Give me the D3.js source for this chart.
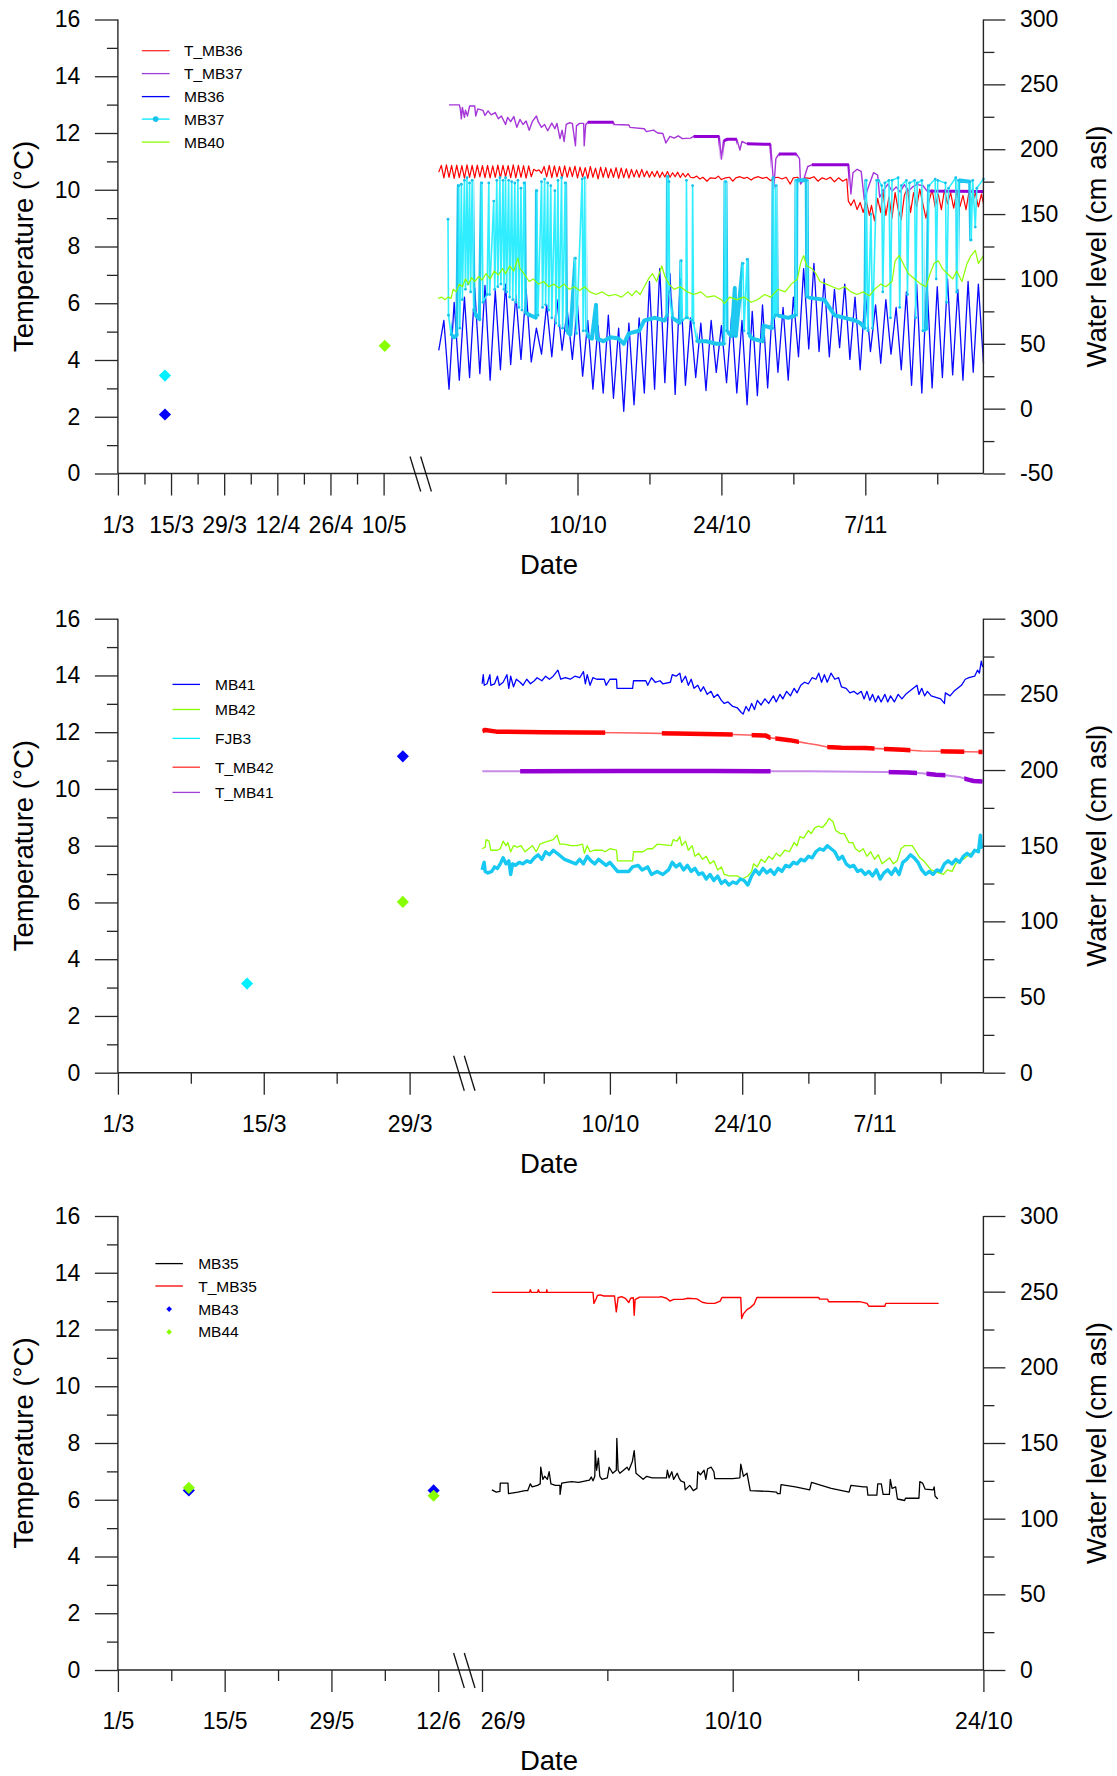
<!DOCTYPE html>
<html>
<head>
<meta charset="utf-8">
<script src="https://cdn.jsdelivr.net/npm/d3@7"></script>
<style>
  body { margin: 0; background: #fff; }
  svg { display: block; }
</style>
</head>
<body>
<svg id="chart" width="1117" height="1776"></svg>
<script>
// ---------------------------------------------------------------
// Logger records (autumn): time = days after 1 October (fractional)
// Spot samples (spring): [month, day, value]
// Temperatures in °C (left axis), water levels in cm asl (right axis)
// ---------------------------------------------------------------

// ---- Panel 1 ----
const mb36Start = -4.5, mb36Step = 0.5;
const mb36Level = [45,68,15,82,22,86,24,93,27,95,22,91,30,96,34,88,38,92,36,62,
  42,80,40,84,45,76,38,80,25,68,15,64,12,72,8,62,-2,66,3,70,
  12,98,15,108,20,104,11,100,18,70,24,66,14,68,28,64,20,72,12,68,
  3,75,10,80,16,84,28,78,22,86,40,108,46,112,44,100,40,92,47,96,
  38,86,30,90,44,80,35,84,42,78,30,90,18,96,12,98,16,94,24,100,
  26,92,22,98,28,96,35];

const tmb36Start = -4.5, tmb36Step = 0.25;
const tmb36TempOsc = [10.62,10.86,10.42,10.88,10.44,10.86,10.40,10.87,10.43,10.85,
  10.41,10.88,10.44,10.86,10.42,10.87,10.45,10.85,10.43,10.86,
  10.42,10.84,10.44,10.87,10.42,10.86,10.45,10.85,10.43,10.88,
  10.42,10.86,10.44,10.85,10.41,10.84,10.46,10.72,10.66,10.70,
  10.58,10.82,10.45,10.86,10.43,10.84,10.45,10.82,10.42,10.84,
  10.44,10.80,10.46,10.83,10.42,10.80,10.45,10.78,10.40,10.82,
  10.44,10.76,10.38,10.80,10.44,10.78,10.42,10.74,10.44,10.78,
  10.40,10.76,10.43,10.74,10.41,10.72,10.45,10.70,10.44,10.72,
  10.46,10.66,10.44,10.64,10.46,10.66,10.43,10.62,10.45,10.64,
  10.44,10.60,10.46,10.62,10.43,10.58,10.45,10.57,10.44];
const tmb36TempLate = [[20.3,10.42],[20.6,10.48],[20.9,10.38],[21.2,10.44],[21.6,10.30],[21.9,10.42],
  [22.4,10.40],[22.7,10.48],[23.0,10.36],[23.4,10.42],[23.8,10.44],[24.1,10.30],[24.4,10.42],
  [24.8,10.46],[25.2,10.40],[25.5,10.44],[25.9,10.34],[26.2,10.42],[26.6,10.46],[27.0,10.40],
  [27.4,10.44],[27.8,10.32],[28.1,10.42],[28.5,10.44],[28.9,10.38],[29.3,10.44],[29.7,10.20],
  [30.0,10.42],[30.4,10.44],[30.8,10.30],[31.2,10.42],[31.6,10.40],[32.0,10.46],[32.4,10.30],
  [32.8,10.42],[33.2,10.36],[33.6,10.44],[34.0,10.28],[34.4,10.42],[34.8,10.30],[35.2,10.38],
  [35.35,9.60],[35.6,9.45],[35.9,9.65],[36.2,9.30],[36.5,9.55],[36.8,9.20],[37.1,9.60],
  [37.4,9.10],[37.6,9.45],[37.9,8.90],[38.2,9.70],[38.5,9.20],[38.7,10.00],[39.0,9.10],
  [39.3,9.75],[39.6,9.00],[39.9,9.90],[40.2,9.30],[40.5,8.95],[40.8,9.80],[41.1,10.05],
  [41.4,9.20],[41.7,9.90],[42.0,9.40],[42.3,10.02],[42.6,9.50],[42.9,9.00],[43.2,9.60],
  [43.5,10.00],[43.8,9.40],[44.1,9.85],[44.4,9.30],[44.7,10.00],[45.0,9.50],[45.3,9.90],
  [45.6,9.35],[45.9,9.95],[46.2,9.40],[46.5,9.80],[46.8,9.30],[47.1,9.95],[47.4,9.50],
  [47.7,9.90],[48.0,9.40],[48.3,9.85],[48.5,9.50]];

const tmb37Temp = [[-3.5,12.99],[-2.5,12.99],[-2.4,12.85],[-2.3,12.50],[-2.2,12.90],[-2.0,12.55],
  [-1.9,12.80],[-1.7,12.60],[-1.5,12.95],[-1.0,12.95],[-0.9,12.60],[-0.7,12.85],[-0.2,12.80],
  [0.0,12.62],[0.3,12.78],[0.6,12.64],[1.0,12.72],[1.3,12.50],[1.6,12.60],[2.0,12.30],
  [2.2,12.55],[2.5,12.40],[2.8,12.58],[3.1,12.20],[3.4,12.48],[3.7,12.30],[4.0,12.42],
  [4.3,12.10],[4.6,12.40],[5.0,12.60],[5.2,12.38],[5.5,12.20],[5.8,12.30],[6.1,12.08],
  [6.5,12.35],[6.8,12.15],[7.0,12.34],[7.3,11.80],[7.5,12.10],[7.7,11.70],[7.9,12.30],
  [8.2,12.36],[8.5,12.34],[8.8,11.55],[8.9,12.25],[9.2,12.34],[9.6,12.34],[9.65,11.55],
  [9.8,12.30],[10.0,12.38],[12.5,12.38],[12.6,12.30],[14.0,12.28],[14.1,12.20],[15.5,12.15],
  [15.7,12.05],[16.4,12.10],[16.8,12.00],[17.3,11.98],[17.6,11.65],[18.0,11.88],[18.4,11.82],
  [18.8,11.90],[19.2,11.80],[20.0,11.82],[20.3,11.88],[22.8,11.88],[23.0,11.08],[23.2,11.72],
  [23.6,11.78],[24.5,11.78],[24.8,11.40],[25.0,11.70],[25.5,11.62],[27.8,11.60],[28.1,10.05],
  [28.3,11.10],[28.6,11.26],[30.3,11.26],[30.6,11.10],[30.7,10.20],[31.0,10.35],[31.4,10.82],
  [31.8,10.88],[35.4,10.88],[35.6,9.85],[35.8,10.60],[36.2,10.72],[36.6,10.65],[36.9,9.65],
  [37.3,10.10],[37.8,10.60],[38.2,10.52],[38.4,9.74],[38.8,10.00],[39.2,10.20],[39.6,9.95],
  [40.0,10.10],[40.4,9.92],[40.8,10.18],[41.2,9.96],[41.6,10.10],[42.0,10.18],[42.6,10.15],
  [43.0,9.96],[48.5,9.94]];
const tmb37Dense = [[10,12.5],[20.3,22.8],[23.2,24.5],[25.5,27.8],[28.6,30.3],[31.8,35.4],[43,48.5]];

const mb37Level = [[-3.6,146],[-3.55,72],[-3.3,57],[-3.0,55],[-2.7,57],[-2.55,172],[-2.45,62],
  [-2.3,173],[-2.2,84],[-2.0,176],[-1.9,92],[-1.75,178],[-1.65,96],[-1.5,174],[-1.4,90],
  [-1.25,176],[-1.1,76],[-0.8,71],[-0.5,69],[-0.3,174],[-0.2,82],[0.2,88],[0.37,174],[0.45,88],
  [0.85,160],[0.95,92],[1.15,176],[1.25,94],[1.45,178],[1.55,96],[1.75,176],[1.85,92],[2.0,178],
  [2.1,90],[2.3,176],[2.4,86],[2.6,175],[2.7,84],[2.9,174],[3.0,82],[3.2,176],[3.3,78],[3.5,170],
  [3.6,76],[3.8,174],[3.9,74],[4.4,72],[5.0,70],[5.05,168],[5.15,72],[5.5,175],[5.6,78],[5.8,177],
  [5.9,80],[6.1,174],[6.2,76],[6.4,172],[6.5,70],[6.8,168],[6.9,66],[7.1,176],[7.2,64],[7.45,178],
  [7.55,62],[7.8,174],[7.9,60],[8.3,57],[8.8,116],[8.9,58],[9.45,177],[9.55,60],[9.7,178],[9.8,60],
  [10.0,56],[10.4,54],[10.8,80],[10.9,54],[11.5,52],[12.2,55],[13.0,54],[13.5,50],[14.0,58],
  [15.0,60],[15.5,68],[16.5,70],[17.5,68],[17.75,72],[17.8,179],[17.9,175],[17.95,90],[18.2,70],[19.0,66],
  [19.1,114],[19.2,68],[19.55,70],[19.6,176],[19.7,70],[20.15,68],[20.2,172],[20.3,66],[20.6,52],[21.5,52],[22.5,50],
  [23.3,50],[23.4,175],[23.5,60],[24.0,56],[24.3,93],[24.4,56],[25.1,112],[25.2,60],[25.5,115],
  [25.6,58],[26.0,54],[27.0,52],[27.1,64],[28.0,62],[28.07,178],[28.15,70],[28.25,72],[28.3,172],[28.4,72],
  [29.5,70],[30.25,72],[30.3,176],[31.3,176],[31.35,86],[32.0,85],[33.0,84],[33.5,78],[34.0,72],[35.0,70],
  [36.0,68],[36.5,66],[37.0,62],[37.1,176],[37.25,60],[37.55,150],[37.7,62],[38.1,176],[38.3,176],
  [38.6,172],[38.7,90],[38.9,174],[39.3,176],[39.45,70],[39.6,176],[40.2,178],[40.35,78],[40.5,172],
  [41.0,176],[41.1,88],[41.3,174],[41.8,176],[41.9,70],[42.05,174],[42.5,176],[42.6,60],[43.0,62],
  [43.2,172],[43.8,177],[43.9,100],[44.05,176],[44.8,174],[44.9,82],[45.1,170],[45.8,178],[45.9,90],
  [46.05,176],[47.2,175],[47.3,130],[47.45,176],[47.7,140],[47.85,170],[48.5,177]];
const mb37Dense = [[-3.3,-2.6],[-1.1,-0.4],[3.9,5.0],[7.9,8.7],[9.9,17.7],[18.2,19.0],[20.6,23.3],
  [23.5,25.0],[25.6,28.0],[28.45,30.2],[30.35,31.3],[31.4,37.0],[42.7,43.1],[45.8,45.85],[46.1,47.2]];

const mb40Level = [[-4.55,85],[-4.2,86],[-3.9,84],[-3.6,86],[-3.3,85],[-3.1,92],[-2.8,90],[-2.5,96],
  [-2.2,94],[-1.9,100],[-1.6,96],[-1.3,101],[-1.0,98],[-0.6,102],[-0.3,99],[0.1,104],[0.5,100],
  [0.9,106],[1.3,103],[1.7,108],[2.0,104],[2.4,110],[2.8,106],[3.2,116],[3.4,108],[3.8,104],
  [4.3,98],[4.7,100],[5.2,96],[5.7,98],[6.2,94],[6.7,96],[7.2,93],[7.7,96],[8.2,92],[8.7,94],
  [9.2,91],[9.7,94],[10.2,90],[10.8,88],[11.4,90],[12.0,87],[12.7,88],[13.3,86],[13.9,90],
  [14.3,87],[14.7,91],[15.1,88],[15.5,94],[15.9,100],[16.3,104],[16.7,98],[17.2,110],[17.5,102],
  [17.9,96],[18.4,92],[19.0,94],[19.7,90],[20.3,88],[21.0,90],[21.6,86],[22.3,87],[23.0,84],
  [23.3,81],[23.8,86],[24.5,84],[25.2,86],[25.9,82],[26.5,84],[27.2,88],[27.8,86],[28.5,92],
  [29.2,90],[29.8,96],[30.4,100],[30.7,112],[31.0,118],[31.3,110],[31.8,108],[32.2,104],
  [32.6,98],[33.2,96],[33.8,94],[34.4,92],[35.0,94],[35.6,90],[36.2,88],[36.8,90],[37.4,87],
  [37.9,92],[38.5,96],[39.0,94],[39.6,98],[39.9,114],[40.3,118],[40.8,110],[41.2,104],[41.8,100],
  [42.4,96],[42.9,94],[43.3,104],[43.7,112],[44.1,114],[44.5,108],[45.0,104],[45.5,100],
  [45.9,106],[46.4,98],[46.9,112],[47.3,118],[47.7,122],[48.0,112],[48.5,118]];

const mb36Spot = [[3, 13.4, 2.08]];
const mb37Spot = [[3, 13.4, 3.45]];
const mb40Spot = [[5, 10.3, 4.50]];

// ---- Panel 2 ----
const mb41Level = [[-4.52,257],[-4.4,263],[-4.3,256],[-4.0,257],[-3.7,263],[-3.6,256],[-3.2,257],
  [-2.9,262],[-2.7,256],[-2.3,258],[-1.9,263],[-1.7,254],[-1.5,262],[-1.2,255],[-0.9,260],
  [-0.5,258],[-0.2,256],[0.2,260],[0.6,257],[1.0,259],[1.3,261],[1.8,259],[2.2,262],[2.6,260],
  [3.0,262],[3.5,266],[3.8,260],[4.3,261],[4.8,260],[5.3,262],[5.8,261],[6.2,265],[6.4,257],
  [6.6,263],[6.9,256],[7.2,261],[7.6,260],[8.4,260],[8.6,256],[9.0,260],[9.7,260],[9.75,254],
  [11.4,254],[11.5,259],[12.8,259],[13.0,256],[13.4,261],[13.8,258],[14.3,259],[14.6,257],
  [15.4,258],[15.6,263],[16.0,262],[16.4,264],[16.6,258],[17.0,262],[17.3,256],[17.6,260],
  [17.9,254],[18.3,256],[18.6,252],[18.9,255],[19.3,250],[19.7,252],[20.0,248],[20.4,250],
  [20.8,246],[21.1,244],[21.5,245],[22.0,242],[22.5,241],[22.9,238],[23.1,237],[23.4,242],
  [23.7,239],[24.0,244],[24.3,240],[24.6,246],[25.0,243],[25.4,247],[25.8,244],[26.3,249],
  [26.6,245],[27.0,250],[27.3,247],[27.7,252],[28.1,249],[28.5,254],[28.8,251],[29.2,256],
  [29.6,258],[30.0,257],[30.4,261],[30.8,260],[31.1,264],[31.4,258],[31.7,263],[32.0,258],
  [32.4,264],[32.8,260],[33.2,261],[33.5,255],[34.0,254],[34.4,251],[34.8,252],[35.2,250],
  [35.6,252],[35.9,247],[36.2,252],[36.5,246],[36.8,250],[37.1,245],[37.4,249],[37.7,245],
  [38.1,250],[38.4,245],[38.7,249],[39.1,245],[39.5,250],[39.9,247],[40.3,250],[40.7,252],
  [41.1,254],[41.5,256],[41.7,250],[42.0,254],[42.3,249],[42.6,252],[43.0,249],[43.5,248],
  [44.0,247],[44.4,244],[44.5,251],[45.0,249],[45.4,252],[45.8,254],[46.2,256],[46.6,260],
  [47.0,261],[47.6,262],[47.9,266],[48.1,264],[48.3,272],[48.45,268]];

const mb42Level = [[-4.52,148],[-4.2,149],[-4.1,154],[-3.8,153],[-3.6,147],[-2.9,147],[-2.6,148],
  [-2.3,153],[-2.0,150],[-1.8,152],[-1.5,146],[-1.2,150],[-0.8,149],[-0.4,150],[0.0,146],
  [0.4,148],[0.8,150],[1.2,146],[1.6,151],[2.0,152],[2.5,153],[3.0,154],[3.4,157],[3.7,151],
  [4.2,151],[4.9,150],[5.5,150],[6.1,151],[6.3,145],[6.6,150],[6.9,146],[7.3,147],[8.2,147],
  [8.5,146],[9.0,148],[9.7,147],[9.8,140],[11.4,140],[11.5,146],[12.5,146],[13.0,148],
  [13.5,148],[14.0,151],[15.5,150],[15.7,154],[16.1,153],[16.4,156],[16.6,150],[17.0,153],
  [17.3,147],[17.7,150],[18.0,143],[18.4,145],[18.8,141],[19.2,143],[19.6,138],[20.0,140],
  [20.4,134],[20.8,136],[21.1,131],[21.6,130],[22.5,130],[23.0,128],[23.6,130],[24.0,133],
  [24.2,138],[24.6,136],[25.0,141],[25.4,139],[25.8,143],[26.2,141],[26.6,145],[27.0,143],
  [27.5,147],[28.0,146],[28.5,152],[28.8,150],[29.1,156],[29.5,155],[30.0,160],[30.3,158],
  [30.7,162],[31.1,163],[31.5,162],[31.9,165],[32.2,168],[32.6,166],[32.9,160],[33.4,158],
  [33.8,158],[34.3,152],[34.7,152],[35.0,148],[35.4,146],[35.8,148],[36.2,143],[36.6,146],
  [37.0,141],[37.4,144],[37.8,138],[38.2,140],[38.6,142],[39.0,138],[39.4,140],[39.8,148],
  [40.2,150],[40.6,150],[41.0,150],[41.4,146],[41.8,142],[42.2,140],[42.6,137],[43.0,134],
  [43.4,133],[43.8,132],[44.3,131],[44.7,134],[45.2,133],[45.6,138],[46.0,140],[46.4,141],
  [46.8,143],[47.2,145],[47.6,146],[48.0,148],[48.45,150]];

const fjb3Level = [[-4.52,134],[-4.4,137],[-4.3,139],[-4.2,133],[-3.9,132],[-3.5,133],[-3.2,136],
  [-2.9,135],[-2.6,138],[-2.3,142],[-2.0,138],[-1.7,140],[-1.5,131],[-1.3,138],[-1.0,137],
  [-0.6,139],[-0.2,138],[0.2,140],[0.6,139],[1.0,142],[1.4,144],[1.8,141],[2.2,146],[2.6,144],
  [3.0,147],[3.4,145],[3.8,143],[4.2,141],[4.6,140],[5.0,139],[5.4,138],[5.8,141],[6.2,138],
  [6.6,143],[7.0,140],[7.4,138],[7.8,141],[8.2,139],[8.6,137],[9.0,139],[9.4,136],[9.8,133],
  [10.5,133],[11.0,133],[11.4,136],[12.0,137],[12.4,134],[13.0,136],[13.4,131],[14.0,133],
  [14.6,131],[15.2,134],[15.6,139],[16.0,136],[16.4,138],[16.8,134],[17.2,137],[17.6,133],
  [18.0,135],[18.4,131],[18.8,132],[19.2,128],[19.6,131],[20.0,127],[20.4,130],[20.8,125],
  [21.2,127],[21.6,124],[22.0,126],[22.4,125],[22.8,128],[23.2,127],[23.6,124],[24.0,130],
  [24.4,134],[24.8,131],[25.2,135],[25.6,132],[26.0,134],[26.4,131],[26.8,135],[27.2,133],
  [27.6,137],[28.0,136],[28.4,139],[28.8,138],[29.2,141],[29.6,140],[30.0,143],[30.4,142],
  [30.8,146],[31.2,148],[31.6,147],[32.0,150],[32.4,148],[32.8,146],[33.2,141],[33.6,143],
  [34.0,138],[34.4,136],[34.8,137],[35.2,133],[35.6,134],[36.0,131],[36.4,133],[36.8,130],
  [37.2,134],[37.6,128],[38.0,132],[38.4,134],[38.8,131],[39.2,135],[39.6,131],[40.0,139],
  [40.4,141],[40.8,144],[41.2,142],[41.6,139],[42.0,134],[42.4,131],[42.8,133],[43.2,131],
  [43.6,134],[44.0,133],[44.4,138],[44.8,140],[45.2,138],[45.6,141],[46.0,139],[46.4,143],
  [46.8,145],[47.2,143],[47.6,147],[48.0,146],[48.2,157],[48.3,149],[48.45,150]];

const tmb42Temp = [[-4.5,12.04],[-4.2,12.08],[-3.0,12.02],[2.0,12.00],[10.0,11.98],[16.0,11.95],
  [22.0,11.92],[25.5,11.88],[26.0,11.80],[27.0,11.76],[28.0,11.72],[29.0,11.66],[30.0,11.60],
  [31.0,11.55],[32.0,11.48],[33.5,11.45],[36.0,11.44],[37.5,11.42],[40.0,11.38],[42.0,11.34],
  [45.0,11.32],[48.45,11.30]];
const tmb42Dense = [[-4.5,8.5],[14.5,22],[24,26],[26.5,29],[32,37],[38,40.8],[44,46.5],[48,48.45]];

const tmb41Temp = [[-4.5,10.62],[0,10.62],[10,10.63],[20,10.63],[30,10.62],[38,10.60],[40.5,10.58],
  [42,10.55],[43.5,10.50],[44.5,10.48],[46,10.42],[47,10.32],[47.5,10.28],[48.45,10.26]];
const tmb41Dense = [[-0.5,26],[38.5,41.5],[42.5,44.5],[46.5,48.45]];

const fjb3Spot = [[3, 13.4, 3.14]];
const mb41Spot = [[3, 28.35, 11.15]];
const mb42Spot = [[3, 28.35, 6.02]];

// ---- Panel 3 ----
const mb35Level = [[-4.45,119],[-4.2,117.5],[-4.0,118],[-3.98,123.5],[-3.55,123.5],[-3.52,116.5],
  [-3.0,117.5],[-2.6,118.5],[-2.45,118.5],[-2.3,123],[-2.2,121],[-1.9,122],[-1.75,123],
  [-1.72,134],[-1.6,126],[-1.5,128],[-1.35,126],[-1.25,131],[-1.15,123],[-0.9,122],[-0.65,122],
  [-0.64,116],[-0.55,123.5],[-0.3,124],[0.0,124.5],[0.4,124],[0.8,125],[1.0,125.5],[1.1,127.5],
  [1.2,125],[1.3,128],[1.32,145],[1.4,132],[1.5,140],[1.58,128],[1.7,126],[2.0,127],[2.1,134],
  [2.3,130],[2.5,132],[2.53,153],[2.6,132],[2.7,130],[2.9,132],[3.1,134],[3.2,132],[3.4,138],
  [3.5,145],[3.6,130],[3.8,128],[4.0,126],[4.2,128],[4.5,127],[5.0,127],[5.3,127],[5.35,132],
  [5.45,127],[5.6,131],[5.7,126],[5.9,130],[6.0,127],[6.1,125],[6.3,124],[6.35,119],[6.6,122],
  [6.8,118.5],[7.0,120],[7.05,131],[7.2,129],[7.4,132],[7.5,126],[7.6,133],[7.8,134],[7.95,131],
  [8.0,126.5],[9.0,126.5],[9.4,127],[9.45,136],[9.6,128],[9.8,130],[9.98,118.5],[11.0,118],
  [11.45,117.5],[11.5,116.5],[11.65,116.5],[11.7,122.5],[12.5,121],[13.3,119],[13.4,124],
  [14.5,120],[15.5,117.5],[15.6,122],[16.3,121],[16.5,121],[16.55,115.5],[17.05,115.5],
  [17.1,123],[17.3,123],[17.4,116],[17.75,116],[17.8,126],[17.9,120],[18.1,121],[18.2,113],
  [18.6,112],[18.65,113.5],[19.4,113.5],[19.45,124.5],[19.6,123.5],[19.75,119.5],[20.2,119],
  [20.25,121],[20.3,115],[20.45,113]];

const tmb35Temp = [[-4.45,13.31],[-2.35,13.31],[-2.3,13.40],[-2.25,13.31],[-1.9,13.31],[-1.85,13.40],
  [-1.8,13.31],[-1.4,13.31],[-1.38,13.40],[-1.35,13.31],[1.2,13.31],[1.25,12.92],[1.35,13.05],
  [1.45,13.20],[1.6,13.22],[1.8,13.18],[2.4,13.18],[2.5,12.62],[2.6,13.12],[2.8,13.16],
  [3.0,13.10],[3.2,12.95],[3.3,13.10],[3.45,13.12],[3.5,12.50],[3.55,13.05],[3.8,13.14],
  [4.9,13.14],[5.0,13.16],[5.3,13.10],[5.5,13.00],[5.7,13.06],[6.2,13.06],[6.5,13.10],
  [7.0,13.08],[7.3,12.96],[7.6,12.92],[8.0,12.92],[8.3,13.00],[8.4,13.13],[9.45,13.13],
  [9.5,12.39],[9.6,12.55],[9.8,12.70],[10.0,12.78],[10.2,12.90],[10.35,13.13],[13.8,13.13],
  [13.85,13.07],[14.3,13.07],[14.35,12.98],[16.1,12.98],[16.5,12.92],[16.6,12.82],[17.5,12.82],
  [17.55,12.92],[20.5,12.92]];

const mb43Spot = [[5, 10.3, 6.33], [6, 11.4, 6.33]];
const mb44Spot = [[5, 10.3, 6.42], [6, 11.4, 6.14]];

// ---- Axis ticks ([month, day]) ----
const p1TicksLeftMajor = [[3,1],[3,15],[3,29],[4,12],[4,26],[5,10]];
const p1TicksLeftMinor = [[3,8],[3,22],[4,5],[4,19],[5,3]];
const p2TicksLeftMajor = [[3,1],[3,15],[3,29]];
const p2TicksLeftMinor = [[3,8],[3,22]];
const p3TicksLeftMajor = [[5,1],[5,15],[5,29],[6,12]];
const p3TicksLeftMinor = [[5,8],[5,22],[6,5]];
const autumnTicksMajor = [[10,10],[10,24],[11,7]];
const autumnTicksMinor = [[10,3],[10,17],[10,31],[11,14]];
const p3TicksRightMajor = [[9,26],[10,10],[10,24]];
const p3TicksRightMinor = [[10,3],[10,17]];
const tempTicksMajor = [0,2,4,6,8,10,12,14,16];
const tempTicksMinor = [1,3,5,7,9,11,13,15];
const levelTicksMajorP1 = [-50,0,50,100,150,200,250,300];
const levelTicksMinorP1 = [-25,25,75,125,175,225,275];
const levelTicksMajor = [0,50,100,150,200,250,300];
const levelTicksMinor = [25,75,125,175,225,275];

// ---------------------------------------------------------------
const YEAR = 2010;
const DAY = 864e5;
const octDay = t => new Date(Date.UTC(YEAR, 9, 1) + t * DAY);
const md = (m, d) => new Date(Date.UTC(YEAR, m - 1, 1) + (d - 1) * DAY);
const stepSeries = (t0, dt, vals) => vals.map((v, i) => [t0 + i * dt, v]);

const FONT = '"Liberation Sans", Arial, Helvetica, sans-serif';
const AXIS = "#262626";
const X0 = 117.9, X1 = 983.4, PLOT_H = 454;

const svg = d3.select("#chart");
const defs = svg.append("defs");

const panels = [
  {
    top: 19.5, wDomain: [-50, 300],
    left: { d0: [3,1], d1: [5,10], x0: 117.9, x1: 383.6, major: p1TicksLeftMajor, minor: p1TicksLeftMinor },
    right: { d0: [10,10], d1: [11,7], x0: 577.5, x1: 865.3, major: autumnTicksMajor, minor: autumnTicksMinor },
    levelMajor: levelTicksMajorP1, levelMinor: levelTicksMinorP1,
    breakX: 410,
    series: [
      { data: stepSeries(tmb36Start, tmb36Step, tmb36TempOsc).concat(tmb36TempLate), axis: "T", color: "#ff0000", width: 1.2 },
      { data: tmb37Temp, axis: "T", color: "#a535d8", width: 1.4, dense: tmb37Dense, denseColor: "#9400d3", denseWidth: 3 },
      { data: stepSeries(mb36Start, mb36Step, mb36Level), axis: "W", color: "#0a0aff", width: 1.3 },
      { data: mb37Level, axis: "W", color: "#30eeff", width: 1.6, dense: mb37Dense, denseColor: "#1ec8f0", denseWidth: 4, dots: { r: 1.4, fill: "#18c2ec" } },
      { data: mb40Level, axis: "W", color: "#8cff00", width: 1.2 }
    ],
    spots: [
      { data: mb36Spot, color: "#0000ff" },
      { data: mb37Spot, color: "#00f0ff" },
      { data: mb40Spot, color: "#88ff00" }
    ],
    legend: { lx0: 141.8, lx1: 169.6, tx: 184, rows: [31.2, 54.1, 77.1, 99.6, 122.6], items: [
      { label: "T_MB36", color: "#ff3030" },
      { label: "T_MB37", color: "#a040d8" },
      { label: "MB36", color: "#0000ff" },
      { label: "MB37", color: "#00e8ff", dot: "#18c2ec" },
      { label: "MB40", color: "#88ff00" }
    ] }
  },
  {
    top: 618.7, wDomain: [0, 300],
    left: { d0: [3,1], d1: [3,29], x0: 117.9, x1: 409.6, major: p2TicksLeftMajor, minor: p2TicksLeftMinor },
    right: { d0: [10,10], d1: [11,7], x0: 609.9, x1: 874.5, major: autumnTicksMajor, minor: autumnTicksMinor },
    levelMajor: levelTicksMajor, levelMinor: levelTicksMinor,
    breakX: 453.6,
    series: [
      { data: mb41Level, axis: "W", color: "#0000ff", width: 1.3 },
      { data: mb42Level, axis: "W", color: "#8cff00", width: 1.3 },
      { data: fjb3Level, axis: "W", color: "#16c8f2", width: 3.4 },
      { data: tmb42Temp, axis: "T", color: "#ff6060", width: 1.6, dense: tmb42Dense, denseColor: "#ff0000", denseWidth: 4.5 },
      { data: tmb41Temp, axis: "T", color: "#c68ae8", width: 2, dense: tmb41Dense, denseColor: "#9400d3", denseWidth: 4.5 }
    ],
    spots: [
      { data: fjb3Spot, color: "#00f0ff" },
      { data: mb41Spot, color: "#0000ff" },
      { data: mb42Spot, color: "#88ff00" }
    ],
    legend: { lx0: 172.5, lx1: 200, tx: 215, rows: [65.7, 90.8, 119.7, 148.5, 173.7], items: [
      { label: "MB41", color: "#0000ff" },
      { label: "MB42", color: "#88ff00" },
      { label: "FJB3", color: "#00f0ff" },
      { label: "T_MB42", color: "#ff3030" },
      { label: "T_MB41", color: "#a040d8" }
    ] }
  },
  {
    top: 1216, wDomain: [0, 300],
    left: { d0: [5,1], d1: [6,12], x0: 117.9, x1: 438.2, major: p3TicksLeftMajor, minor: p3TicksLeftMinor },
    right: { d0: [9,26], d1: [10,24], x0: 482.0, x1: 983.4, major: p3TicksRightMajor, minor: p3TicksRightMinor, firstLabelShift: 20.6 },
    levelMajor: levelTicksMajor, levelMinor: levelTicksMinor,
    breakX: 453.6,
    series: [
      { data: mb35Level, axis: "W", color: "#000000", width: 1.3 },
      { data: tmb35Temp, axis: "T", color: "#ff0000", width: 1.4 }
    ],
    spots: [
      { data: mb43Spot, color: "#0000ff" },
      { data: mb44Spot, color: "#88ff00" }
    ],
    legend: { lx0: 155.4, lx1: 182.9, tx: 198.2, rows: [47.6, 70, 93.1, 115.9], items: [
      { label: "MB35", color: "#000000" },
      { label: "T_MB35", color: "#ff0000" },
      { label: "MB43", marker: "#0000ff" },
      { label: "MB44", marker: "#88ff00" }
    ] }
  }
];

function styleAxis(sel, fontSize) {
  sel.select(".domain").remove();
  sel.attr("font-size", null).attr("font-family", null);
  sel.selectAll(".tick line").attr("stroke", AXIS).attr("stroke-width", 1.3);
  sel.selectAll(".tick text").attr("font-size", fontSize).attr("font-family", FONT).attr("fill", "#000");
}

const dateFmt = d3.utcFormat("%-d/%-m");
const toDates = arr => arr.map(([m, d]) => md(m, d));

panels.forEach((p, pi) => {
  const top = p.top, bottom = p.top + PLOT_H;
  const g = svg.append("g");

  const yT = d3.scaleLinear().domain([0, 16]).range([bottom, top]);
  const yW = d3.scaleLinear().domain(p.wDomain).range([bottom, top]);
  const xL = d3.scaleUtc().domain([md(...p.left.d0), md(...p.left.d1)]).range([p.left.x0, p.left.x1]);
  const xR = d3.scaleUtc().domain([md(...p.right.d0), md(...p.right.d1)]).range([p.right.x0, p.right.x1]);

  // ---- data ----
  const plot = g.append("g");
  p.series.forEach((s, si) => {
    const y = s.axis === "T" ? yT : yW;
    const line = d3.line().x(d => xR(octDay(d[0]))).y(d => y(d[1]));
    plot.append("path").datum(s.data)
      .attr("d", line).attr("fill", "none")
      .attr("stroke", s.color).attr("stroke-width", s.width)
      .attr("stroke-linejoin", "round");
    if (s.dense) {
      const cid = `dense-${pi}-${si}`;
      const cp = defs.append("clipPath").attr("id", cid);
      s.dense.forEach(([a, b]) => {
        const xa = xR(octDay(a)), xb = xR(octDay(b));
        cp.append("rect").attr("x", xa).attr("width", xb - xa)
          .attr("y", top - 20).attr("height", PLOT_H + 40);
      });
      plot.append("path").datum(s.data)
        .attr("d", line).attr("fill", "none")
        .attr("stroke", s.denseColor).attr("stroke-width", s.denseWidth)
        .attr("stroke-linejoin", "round")
        .attr("clip-path", `url(#${cid})`);
    }
    if (s.dots) {
      plot.append("g").selectAll("circle").data(s.data).join("circle")
        .attr("cx", d => xR(octDay(d[0]))).attr("cy", d => y(d[1]))
        .attr("r", s.dots.r).attr("fill", s.dots.fill);
    }
  });

  // spring spot samples (diamonds)
  const diamond = d3.symbol().type(d3.symbolSquare).size(74);
  p.spots.forEach(sp => {
    plot.append("g").selectAll("path").data(sp.data).join("path")
      .attr("d", diamond)
      .attr("transform", d => `translate(${xL(md(d[0], d[1]))},${yT(d[2])}) rotate(45)`)
      .attr("fill", sp.color);
  });

  // ---- frame ----
  g.append("line").attr("x1", X0).attr("x2", X0).attr("y1", top).attr("y2", bottom)
    .attr("stroke", AXIS).attr("stroke-width", 1.4);
  g.append("line").attr("x1", X1).attr("x2", X1).attr("y1", top).attr("y2", bottom)
    .attr("stroke", AXIS).attr("stroke-width", 1.4);
  g.append("line").attr("x1", X0).attr("x2", X1).attr("y1", bottom).attr("y2", bottom)
    .attr("stroke", AXIS).attr("stroke-width", 1.4);

  // ---- y axes ----
  g.append("g").attr("transform", `translate(${X0},0)`)
    .call(d3.axisLeft(yT).tickValues(tempTicksMajor).tickSize(23).tickPadding(14.5).tickFormat(d => String(d)))
    .call(sel => styleAxis(sel, 23));
  g.append("g").attr("transform", `translate(${X0},0)`)
    .call(d3.axisLeft(yT).tickValues(tempTicksMinor).tickSize(11).tickFormat(""))
    .call(sel => styleAxis(sel, 23));
  g.append("g").attr("transform", `translate(${X1},0)`)
    .call(d3.axisRight(yW).tickValues(p.levelMajor).tickSize(22).tickPadding(14.6).tickFormat(d => String(d)))
    .call(sel => styleAxis(sel, 23));
  g.append("g").attr("transform", `translate(${X1},0)`)
    .call(d3.axisRight(yW).tickValues(p.levelMinor).tickSize(11).tickFormat(""))
    .call(sel => styleAxis(sel, 23));

  // ---- x axes (spring segment | autumn segment) ----
  [[xL, p.left], [xR, p.right]].forEach(([sc, seg]) => {
    const major = g.append("g").attr("transform", `translate(0,${bottom})`)
      .call(d3.axisBottom(sc).tickValues(toDates(seg.major)).tickSize(22).tickPadding(21).tickFormat(dateFmt))
      .call(sel => styleAxis(sel, 23));
    if (seg.firstLabelShift) {
      major.selectAll(".tick text").filter((d, i) => i === 0).attr("dx", seg.firstLabelShift);
    }
    g.append("g").attr("transform", `translate(0,${bottom})`)
      .call(d3.axisBottom(sc).tickValues(toDates(seg.minor)).tickSize(11).tickFormat(""))
      .call(sel => styleAxis(sel, 23));
  });

  // axis break marks
  [0, 10.7].forEach(off => {
    g.append("line")
      .attr("x1", p.breakX + off).attr("y1", bottom - 17)
      .attr("x2", p.breakX + off + 10.7).attr("y2", bottom + 18)
      .attr("stroke", "#111").attr("stroke-width", 1.3);
  });

  // ---- titles ----
  g.append("text").text("Date")
    .attr("x", 549).attr("y", bottom + 100)
    .attr("text-anchor", "middle").attr("font-size", 27.5).attr("font-family", FONT).attr("fill", "#000");
  g.append("text").text("Temperature (°C)")
    .attr("transform", `translate(32.5,${(top + bottom) / 2}) rotate(-90)`)
    .attr("text-anchor", "middle").attr("font-size", 27.5).attr("font-family", FONT).attr("fill", "#000");
  g.append("text").text("Water level (cm asl)")
    .attr("transform", `translate(1106,${(top + bottom) / 2}) rotate(-90)`)
    .attr("text-anchor", "middle").attr("font-size", 27.5).attr("font-family", FONT).attr("fill", "#000");

  // ---- legend ----
  const lg = g.append("g");
  const L = p.legend;
  L.items.forEach((it, i) => {
    const yy = top + L.rows[i];
    if (it.color) {
      lg.append("line").attr("x1", L.lx0).attr("x2", L.lx1).attr("y1", yy).attr("y2", yy)
        .attr("stroke", it.color).attr("stroke-width", 1.3);
    }
    if (it.dot) {
      lg.append("circle").attr("cx", (L.lx0 + L.lx1) / 2).attr("cy", yy).attr("r", 2.8).attr("fill", it.dot);
    }
    if (it.marker) {
      lg.append("path").attr("d", d3.symbol().type(d3.symbolSquare).size(16)())
        .attr("transform", `translate(${(L.lx0 + L.lx1) / 2},${yy}) rotate(45)`)
        .attr("fill", it.marker);
    }
    lg.append("text").text(it.label)
      .attr("x", L.tx).attr("y", yy).attr("dy", "0.36em")
      .attr("font-size", 15.5).attr("font-family", FONT).attr("fill", "#000");
  });
});
</script>
</body>
</html>
